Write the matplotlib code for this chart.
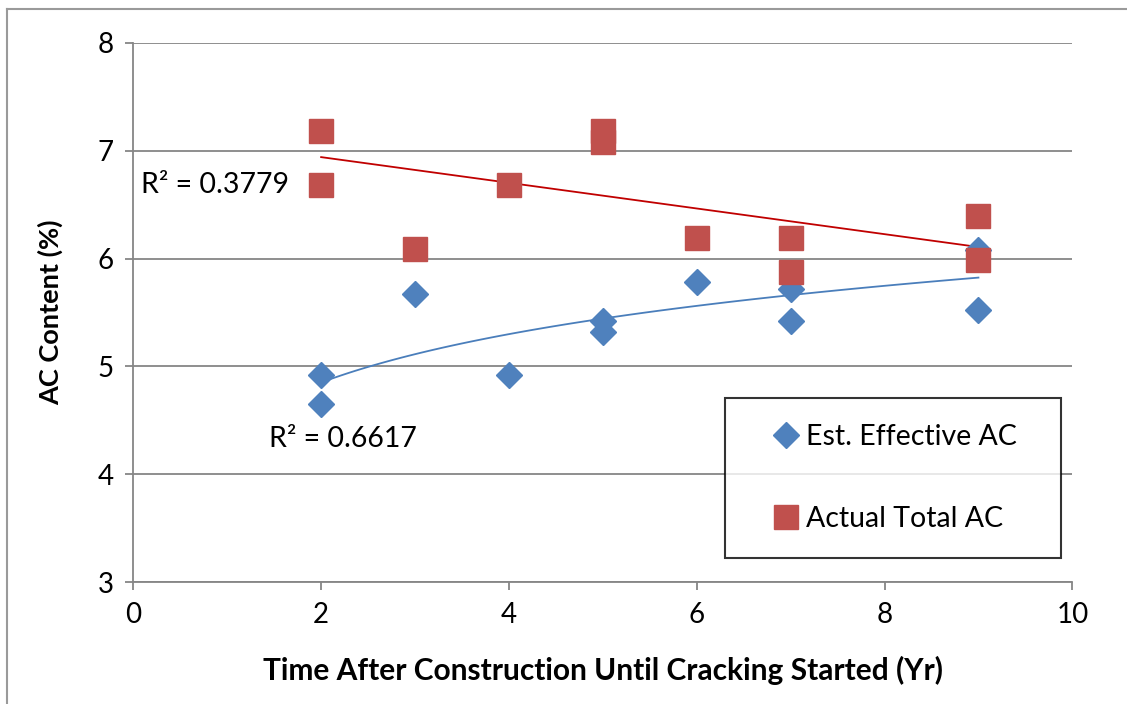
import numpy as np
import matplotlib
matplotlib.use("Agg")
import matplotlib.pyplot as plt
from matplotlib.lines import Line2D

plt.rcParams['font.family'] = ['Lato', 'DejaVu Sans']

# years after construction until cracking started
eff_years = [2, 2, 3, 4, 5, 5, 6, 7, 7, 9, 9]
eff_ac = [4.92, 4.65, 5.67, 4.92, 5.42, 5.32, 5.78, 5.72, 5.42, 6.08, 5.52]

tot_years = [2, 2, 3, 4, 5, 5, 6, 7, 7, 9, 9]
tot_ac = [7.18, 6.68, 6.09, 6.68, 7.18, 7.08, 6.19, 6.19, 5.88, 6.39, 5.99]

# trendline coefficients
# total AC: linear  y = a*x + b
tot_slope = -0.119
tot_icpt = 7.178
# effective AC: logarithmic  y = a*ln(x) + b
eff_log_a = 0.646
eff_log_b = 4.404
trend_range = (2, 9)

r2_tot = "R² = 0.3779"
r2_eff = "R² = 0.6617"

blue = '#4F81BD'
red = '#C0504D'
grid_col = '#868686'

fig = plt.figure(figsize=(11.27, 7.04), dpi=100)
ax = fig.add_axes([0.1183, 0.1729, 0.8332, 0.7664])

# trend lines
xt = np.linspace(trend_range[0], trend_range[1], 100)
ax.plot(xt, tot_slope * xt + tot_icpt, color='#C00000', lw=1.3, zorder=3)
ax.plot(xt, eff_log_a * np.log(xt) + eff_log_b, color='#4A7EBB', lw=1.3, zorder=3)

# data points
ax.plot(eff_years, eff_ac, linestyle='none', marker='D', markersize=13,
        color=blue, markeredgecolor=blue, zorder=4)
ax.plot(tot_years, tot_ac, linestyle='none', marker='s', markersize=17,
        color=red, markeredgecolor=red, zorder=4)

ax.set_xlim(0, 10)
ax.set_ylim(3, 8)
ax.set_xticks(range(0, 11, 2))
ax.set_yticks(range(3, 9))
ax.yaxis.grid(True, color=grid_col, lw=1.3)
ax.set_axisbelow(True)

for side in ['top', 'right']:
    ax.spines[side].set_visible(False)
for side in ['left', 'bottom']:
    ax.spines[side].set_color(grid_col)
    ax.spines[side].set_linewidth(1.3)
ax.tick_params(direction='out', length=6, width=1.3, color=grid_col,
               labelsize=20, pad=8)

ax.set_xlabel('Time After Construction Until Cracking Started (Yr)',
              fontsize=21.5, fontweight='bold', labelpad=20)
ax.set_ylabel('AC Content (%)', fontsize=19.5, fontweight='bold', labelpad=25)

ax.text(0.08, 6.68, r2_tot, fontsize=20.5, va='center', ha='left')
ax.text(1.45, 4.33, r2_eff, fontsize=20.5, va='center', ha='left')

handles = [
    Line2D([], [], linestyle='none', marker='D', markersize=13, color=blue),
    Line2D([], [], linestyle='none', marker='s', markersize=17, color=red),
]
leg_x0, leg_y1 = 725 / 1127, 1 - 398 / 704
leg_w = 336 / 1127
leg = ax.legend(handles, ['Est. Effective AC', 'Actual Total AC'],
                loc='upper left', bbox_to_anchor=(leg_x0, leg_y1 - 0.01, leg_w, 0.01),
                bbox_transform=fig.transFigure, mode='expand', fontsize=20.5,
                frameon=True, fancybox=False, borderaxespad=0, borderpad=0.9,
                labelspacing=1.98, handlelength=2.5, handletextpad=-0.55,
                numpoints=1)
leg.get_frame().set_edgecolor('black')
leg.get_frame().set_linewidth(1.5)

# outer chart border (only top and left edges are in frame)
fig.add_artist(Line2D([7 / 1127, 1], [1 - 9 / 704, 1 - 9 / 704],
                      transform=fig.transFigure, color='#9a9a9a', lw=1.5))
fig.add_artist(Line2D([7 / 1127, 7 / 1127], [0, 1 - 9 / 704],
                      transform=fig.transFigure, color='#9a9a9a', lw=1.5))

fig.savefig('out.png', dpi=100)
